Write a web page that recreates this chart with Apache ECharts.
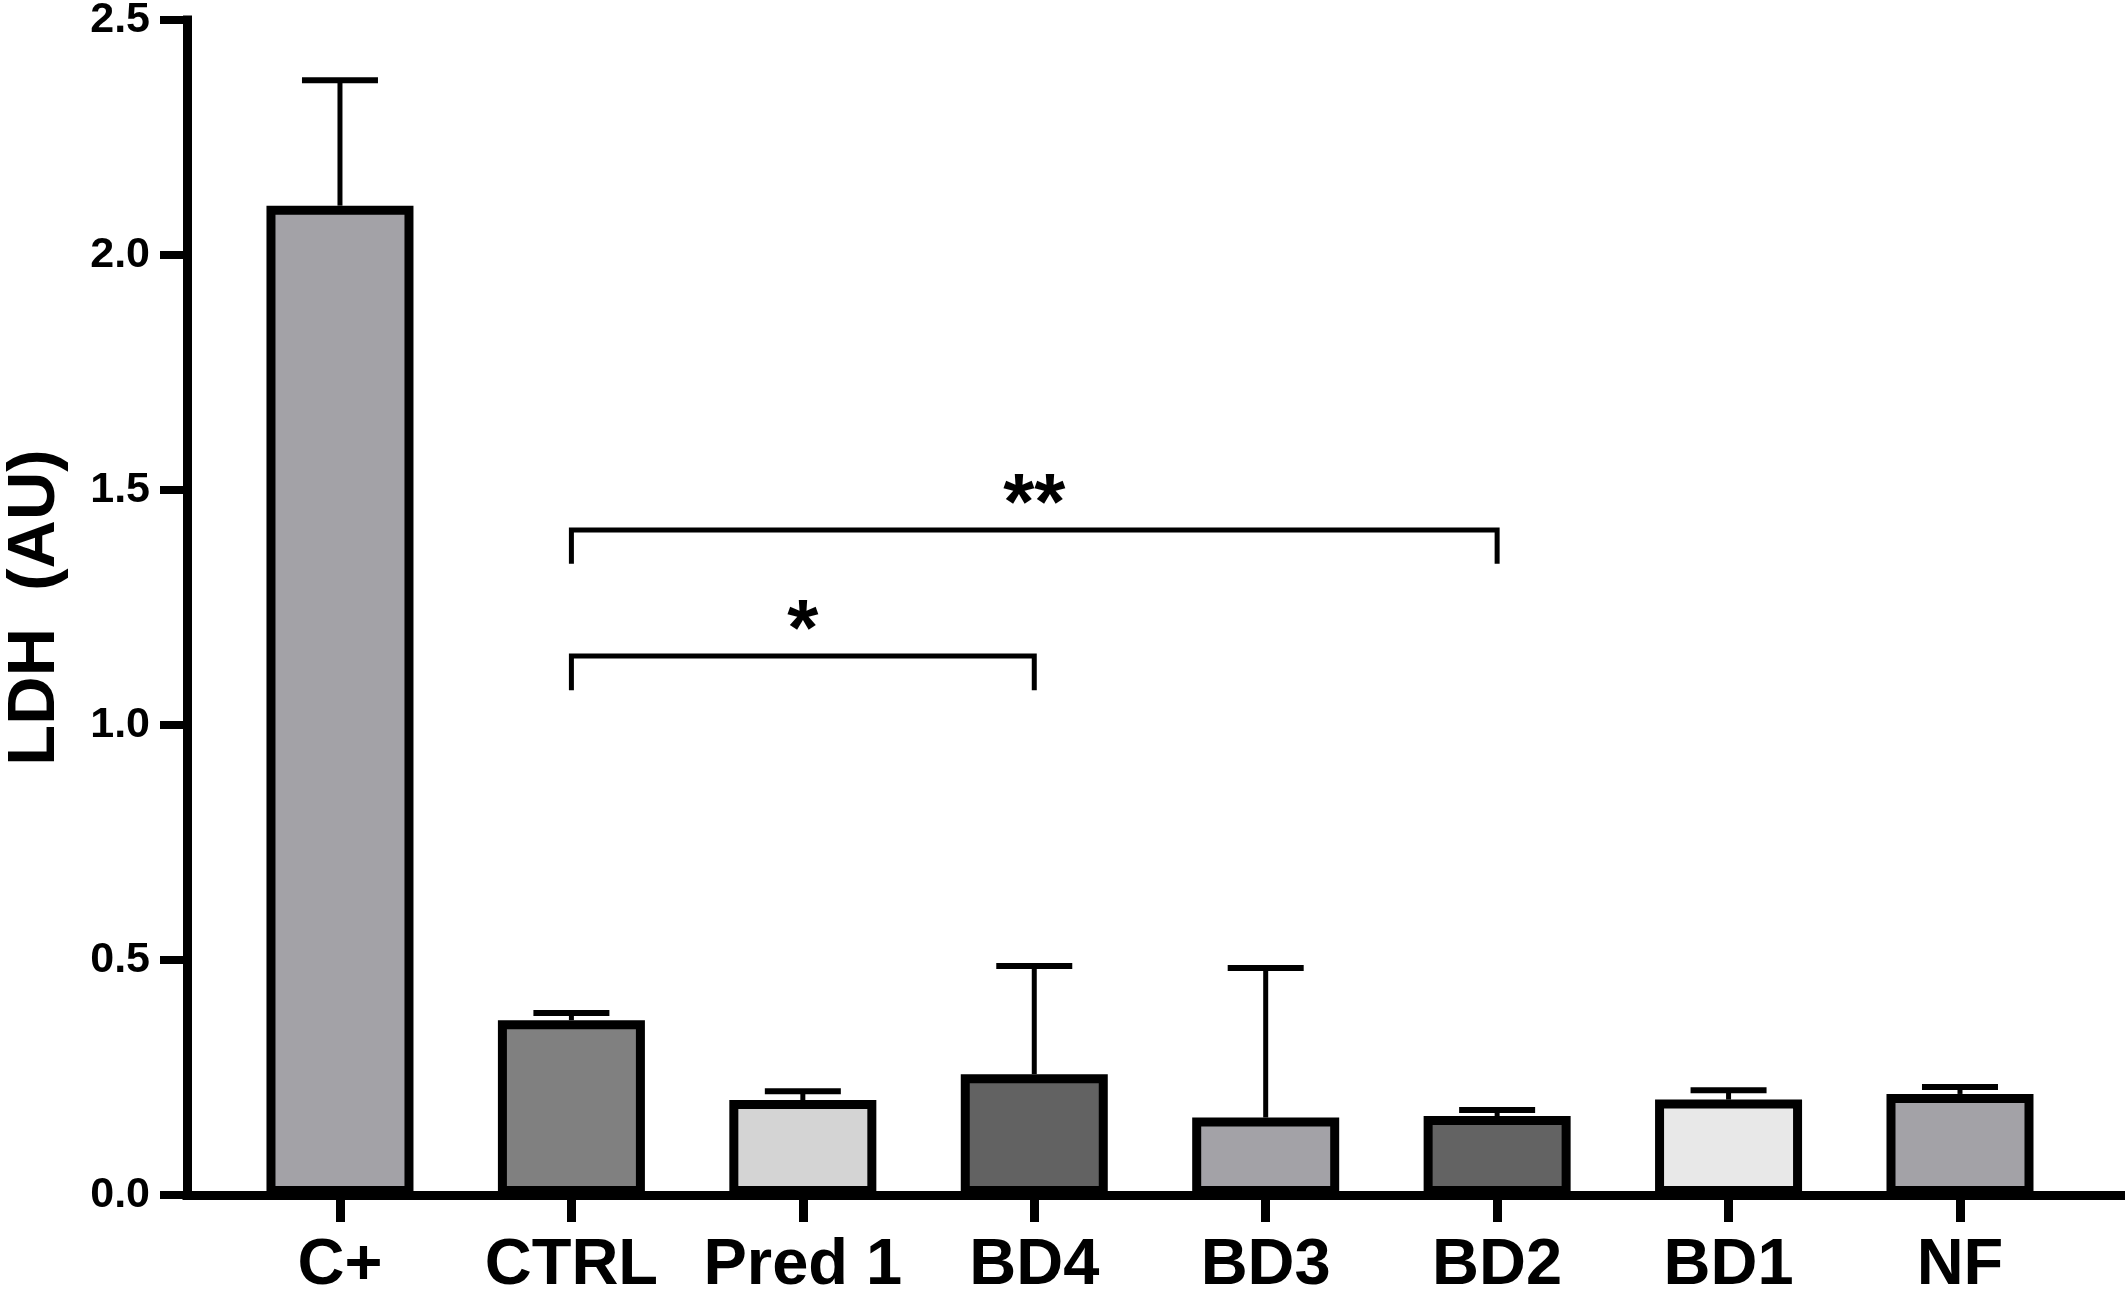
<!DOCTYPE html>
<html>
<head>
<meta charset="utf-8">
<script src="https://cdn.jsdelivr.net/npm/echarts@6/dist/echarts.min.js"></script>
<style>
html, body { margin: 0; padding: 0; background: #fff; }
#chart { width: 2125px; height: 1295px; }
</style>
</head>
<body>
<div id="chart"></div>
<script>
const categories = ['C+', 'CTRL', 'Pred 1', 'BD4', 'BD3', 'BD2', 'BD1', 'NF'];
const means = [2.105, 0.372, 0.202, 0.257, 0.165, 0.168, 0.203, 0.215];
const errorTops = [2.372, 0.387, 0.221, 0.487, 0.483, 0.181, 0.223, 0.230];
const barColors = ['#a3a2a7', '#808080', '#d4d4d4', '#626262', '#a3a2a7', '#636363', '#e8e8e8', '#a3a2a7'];
const yTicks = [0, 0.5, 1.0, 1.5, 2.0, 2.5];

// significance brackets (category index from/to, heights in axis units)
const bracketFrom = [1, 1];
const bracketTo = [5, 3];
const bracketY = [1.415, 1.147];
const bracketLegY = [1.343, 1.074];
const bracketText = ['**', '*'];
const bracketTextY = [1.464, 1.196];

const X_MIN = -0.661;
const X_MAX = 7.713;
const FONT = '"Liberation Sans", Arial, sans-serif';
const catIndex = categories.map((c, i) => i);

function renderErrorBar(params, api) {
    let base = api.coord([api.value(0), api.value(1)]);
    let top = api.coord([api.value(0), api.value(2)]);
    let capHalf = 38;
    return {
        type: 'group',
        children: [
            {
                type: 'line',
                shape: { x1: base[0], y1: base[1], x2: top[0], y2: top[1] },
                style: { stroke: '#000', lineWidth: 5 }
            },
            {
                type: 'line',
                shape: { x1: top[0] - capHalf, y1: top[1], x2: top[0] + capHalf, y2: top[1] },
                style: { stroke: '#000', lineWidth: 6 }
            }
        ]
    };
}

// y ticks drawn as thick outward marks on the left axis
function renderYTick(params, api) {
    let p = api.coord([api.value(0), api.value(1)]);
    return {
        type: 'line',
        shape: { x1: p[0] - 27, y1: p[1], x2: p[0], y2: p[1] },
        style: { stroke: '#000', lineWidth: 8 }
    };
}

function renderBracket(params, api) {
    let x1 = api.value(0), x2 = api.value(1);
    let y = api.value(2), legY = api.value(3), textY = api.value(4);
    let a = api.coord([x1, legY]);
    let b = api.coord([x1, y]);
    let c = api.coord([x2, y]);
    let d = api.coord([x2, legY]);
    let t = api.coord([(x1 + x2) / 2, textY]);
    return {
        type: 'group',
        children: [
            {
                type: 'polyline',
                shape: { points: [a, b, c, d] },
                style: { stroke: '#000', lineWidth: 5, fill: null, lineJoin: 'miter' }
            },
            {
                type: 'text',
                style: {
                    text: bracketText[params.dataIndex],
                    x: t[0],
                    y: t[1],
                    align: 'center',
                    verticalAlign: 'middle',
                    fontSize: 80,
                    fontWeight: 'bold',
                    fontFamily: FONT,
                    fill: '#000'
                }
            }
        ]
    };
}

let chart = echarts.init(document.getElementById('chart'));

let option = {
    animation: false,
    backgroundColor: '#fff',
    grid: {
        left: 187,
        right: 0,
        top: 20,
        bottom: 100,
        containLabel: false,
        outerBoundsMode: 'none'
    },
    xAxis: {
        type: 'value',
        min: X_MIN,
        max: X_MAX,
        splitLine: { show: false },
        axisLine: {
            show: true,
            onZero: false,
            lineStyle: { color: '#000', width: 9, cap: 'square' }
        },
        axisTick: {
            show: true,
            customValues: catIndex,
            length: 27,
            lineStyle: { color: '#000', width: 9 }
        },
        axisLabel: {
            customValues: catIndex,
            formatter: v => categories[Math.round(v)],
            margin: 39,
            fontSize: 65,
            fontWeight: 'bold',
            fontFamily: FONT,
            color: '#000'
        }
    },
    yAxis: {
        type: 'value',
        min: 0,
        max: 2.5,
        interval: 0.5,
        name: 'LDH  (AU)',
        nameLocation: 'middle',
        nameGap: 118,
        nameTextStyle: {
            fontSize: 67,
            fontWeight: 'bold',
            fontFamily: FONT,
            color: '#000'
        },
        splitLine: { show: false },
        axisLine: {
            show: true,
            onZero: false,
            lineStyle: { color: '#000', width: 9, cap: 'square' }
        },
        axisTick: { show: false },
        axisLabel: {
            customValues: yTicks,
            formatter: v => v.toFixed(1),
            margin: 37,
            fontSize: 43,
            fontWeight: 'bold',
            fontFamily: FONT,
            color: '#000'
        }
    },
    series: [
        {
            type: 'bar',
            barWidth: 147,
            z: 2,
            data: means.map((v, i) => ({
                value: [i, v],
                itemStyle: { color: barColors[i], borderColor: '#000', borderWidth: 9 }
            }))
        },
        {
            type: 'custom',
            z: 3,
            renderItem: renderErrorBar,
            data: means.map((v, i) => [i, v, errorTops[i]])
        },
        {
            type: 'custom',
            z: 3,
            clip: false,
            renderItem: renderYTick,
            data: yTicks.map(v => [X_MIN, v])
        },
        {
            type: 'custom',
            z: 3,
            renderItem: renderBracket,
            data: bracketFrom.map((f, i) => [f, bracketTo[i], bracketY[i], bracketLegY[i], bracketTextY[i]])
        }
    ]
};

chart.setOption(option);
</script>
</body>
</html>
